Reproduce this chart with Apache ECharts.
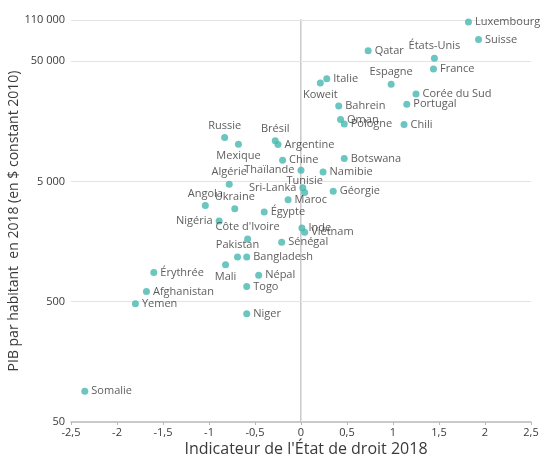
<!DOCTYPE html>
<html>
<head>
<meta charset="utf-8">
<script src="https://cdn.jsdelivr.net/npm/echarts@6/dist/echarts.min.js"></script>
<style>html,body{margin:0;padding:0;background:#fff;}#c{width:544px;height:459px;}</style>
</head>
<body>
<div id="c"></div>
<script>
const countries = ["Luxembourg","Suisse","États-Unis","France","Qatar","Italie","Koweit","Espagne","Corée du Sud","Portugal","Bahrein","Oman","Pologne","Chili","Russie","Mexique","Brésil","Argentine","Chine","Thaïlande","Namibie","Botswana","Algérie","Sri-Lanka","Tunisie","Maroc","Géorgie","Angola","Ukraine","Égypte","Nigéria","Côte d'Ivoire","Inde","Viêtnam","Sénégal","Pakistan","Bangladesh","Mali","Népal","Togo","Érythrée","Afghanistan","Yemen","Niger","Somalie"];
const ruleOfLaw = [1.82,1.93,1.45,1.44,0.73,0.28,0.21,0.98,1.25,1.15,0.41,0.43,0.47,1.12,-0.83,-0.68,-0.28,-0.25,-0.20,0.00,0.24,0.47,-0.78,0.02,0.04,-0.14,0.35,-1.04,-0.72,-0.40,-0.89,-0.58,0.01,0.04,-0.21,-0.69,-0.59,-0.82,-0.46,-0.59,-1.60,-1.68,-1.80,-0.59,-2.35];
const gdpPerCapita = [106000,75600,52800,43000,61200,35700,32900,32200,26700,21900,21200,16400,15000,14900,11600,10200,10900,10150,7500,6200,6000,7760,4730,4440,4050,3520,4140,3150,2960,2780,2350,1660,2050,1890,1560,1180,1180,1015,830,670,875,607,482,397,90];
const xTickStep = 0.5;
const yTickValues = [50, 500, 5000, 50000, 110000];

// label placement: [position, dx, dy]
const labelPlacement = {
  "États-Unis": ["top", 7, 3],
  "Italie": ["right", -4, -8],
  "Koweit": ["bottom", -1, -3],
  "Espagne": ["top", 2, 1],
  "Oman": ["right", 0, -4],
  "Pologne": ["right", 0, 3],
  "Russie": ["top", 0, 1],
  "Mexique": ["bottom", 6, -1],
  "Brésil": ["top", 0, 1],
  "Thaïlande": ["left", 0, 0],
  "Algérie": ["top", -9, 1],
  "Sri-Lanka": ["left", 0, -3],
  "Tunisie": ["top", 20, 3],
  "Maroc": ["right", 10, 2],
  "Angola": ["top", -17, 2],
  "Ukraine": ["top", 8, 2],
  "Nigéria": ["left", 0, 0],
  "Côte d'Ivoire": ["top", 15, 2],
  "Inde": ["right", 0, -7],
  "Pakistan": ["top", -12, 3],
  "Mali": ["bottom", 0, -1]
};

const fmtThousands = v => String(Math.round(v)).replace(/\B(?=(\d{3})+(?!\d))/g, ' ');
const fmtDec = v => String(v).replace('.', ',');

const points = countries.map((name, i) => {
  const p = labelPlacement[name] || ["right", 0, 0];
  return {
    name: name,
    value: [ruleOfLaw[i], gdpPerCapita[i]],
    label: { position: p[0], offset: [p[1], p[2]] }
  };
});

const gridLineStyle = { color: '#e3e3e3', width: 1, type: 'solid' };

const chart = echarts.init(document.getElementById('c'), null, { renderer: 'canvas' });
chart.setOption({
  animation: false,
  backgroundColor: '#ffffff',
  textStyle: { fontFamily: 'Open Sans' },
  grid: { left: 71, right: 13, top: 20, bottom: 37, containLabel: false, outerBoundsMode: 'none' },
  xAxis: {
    type: 'value',
    min: -2.5, max: 2.5, interval: xTickStep,
    name: "Indicateur de l'État de droit 2018",
    nameLocation: 'middle', nameGap: 19, nameMoveOverlap: false,
    nameTextStyle: { fontSize: 16, color: '#3a3a3a', fontFamily: 'Open Sans', padding: [0, 0, 0, 10] },
    axisLine: { onZero: false, lineStyle: { color: '#b8b8b8', width: 1.5 } },
    axisTick: { show: true, length: 3, inside: false, lineStyle: { color: '#b8b8b8' } },
    axisLabel: { color: '#3a3a3a', fontSize: 11, margin: 5, formatter: fmtDec, fontFamily: 'Open Sans' },
    splitLine: { show: false }
  },
  yAxis: {
    type: 'log', logBase: 10,
    min: 50, max: 110000,
    name: 'PIB par habitant  en 2018 (en $ constant 2010)',
    nameLocation: 'middle', nameGap: 50, nameMoveOverlap: false,
    nameTextStyle: { fontSize: 14, color: '#3a3a3a', fontFamily: 'Open Sans' },
    axisLine: { show: true, lineStyle: { color: '#b8b8b8', width: 1.5 } },
    axisTick: { show: false, customValues: yTickValues },
    axisLabel: { color: '#3a3a3a', fontSize: 11, margin: 6, customValues: yTickValues, formatter: fmtThousands, fontFamily: 'Open Sans' },
    splitLine: { show: false }
  },
  series: [{
    type: 'scatter',
    symbolSize: 7,
    itemStyle: { color: '#45b8ae' },
    z: 3,
    label: {
      show: true,
      formatter: '{b}',
      color: '#333333',
      fontSize: 11,
      fontFamily: 'Open Sans',
      distance: 3
    },
    labelLayout: { hideOverlap: false },
    data: points,
    markLine: {
      silent: true,
      symbol: 'none',
      label: { show: false },
      lineStyle: gridLineStyle,
      z: 1,
      data: [
        { yAxis: 500 }, { yAxis: 5000 }, { yAxis: 50000 }, { yAxis: 110000 },
        { xAxis: 0 }
      ]
    }
  }]
});
</script>
</body>
</html>
